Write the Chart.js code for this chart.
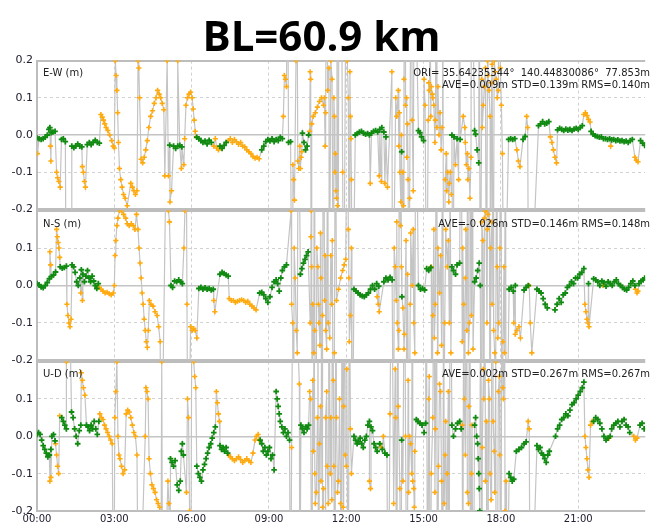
<!DOCTYPE html>
<html><head><meta charset="utf-8">
<script src="https://cdn.jsdelivr.net/npm/chart.js@4.4.1/dist/chart.umd.min.js"></script>
<style>
html,body{margin:0;padding:0;background:#fff;width:651px;height:524px;overflow:hidden;}
#wrap{position:relative;width:651px;height:524px;}
canvas{position:absolute;left:0;}
#title{position:absolute;left:0;width:643px;top:10px;text-align:center;font:700 42px 'Open Sans';color:#000;line-height:50px;z-index:5;}
.lbl{position:absolute;left:43px;font:10px 'DejaVu Sans';color:#222;white-space:pre;line-height:13px;z-index:5;}
.stat{position:absolute;right:1px;font:10px 'DejaVu Sans';color:#222;white-space:pre;text-align:right;line-height:13px;z-index:5;}
</style></head>
<body><div id="wrap">
<canvas id="c1" width="651" height="170" style="top:50px"></canvas>
<canvas id="c2" width="651" height="171" style="top:200px"></canvas>
<canvas id="c3" width="651" height="173" style="top:351px"></canvas>
<div id="title">BL=60.9 km</div>
<div class="lbl" style="top:66px">E-W (m)</div>
<div class="lbl" style="top:217px">N-S (m)</div>
<div class="lbl" style="top:367px">U-D (m)</div>
<div class="stat" style="top:66px">ORI= 35.64235344°  140.44830086°  77.853m</div>
<div class="stat" style="top:78px">AVE=0.009m STD=0.139m RMS=0.140m</div>
<div class="stat" style="top:217px">AVE=-0.026m STD=0.146m RMS=0.148m</div>
<div class="stat" style="top:367px">AVE=0.002m STD=0.267m RMS=0.267m</div>
</div>
<script>
// time in hours, value in metres
const xTickHours = [0,3,6,9,12,15,18,21];
const yTicks = [-0.2,-0.1,0,0.1,0.2];
const X_MAX = 23.6;

const ewFix = [[0.0,-0.008],[0.08,-0.01],[0.16,-0.012],[0.24,-0.01],[0.32,-0.006],[0.4,0.0],[0.46,0.015],[0.5,0.02],[0.55,0.006],[0.62,0.008],[0.7,0.01],
[0.95,-0.012],[1.02,-0.01],[1.1,-0.018],
[1.35,-0.03],[1.43,-0.034],[1.5,-0.03],[1.58,-0.024],[1.66,-0.03],[1.74,-0.032],
[1.95,-0.026],[2.03,-0.02],[2.1,-0.026],[2.18,-0.02],[2.26,-0.014],[2.34,-0.02],[2.42,-0.022],
[5.15,-0.027],[5.3,-0.03],[5.38,-0.036],[5.46,-0.03],[5.54,-0.028],[5.62,-0.032],
[6.2,-0.006],[6.28,-0.01],[6.36,-0.015],[6.44,-0.02],[6.52,-0.016],[6.6,-0.024],[6.68,-0.014],[6.76,-0.02],
[7.1,-0.03],[7.18,-0.036],[7.26,-0.028],[7.34,-0.02],
[8.72,-0.04],[8.8,-0.03],[8.88,-0.018],[8.96,-0.012],[9.04,-0.016],[9.12,-0.01],[9.2,-0.018],[9.28,-0.012],[9.36,-0.015],[9.44,-0.006],[9.52,-0.01],
[9.76,-0.02],[9.84,-0.018],
[10.3,0.005],[10.36,-0.02],[10.42,-0.04],[10.48,-0.03],[10.54,0.0],
[12.35,0.0],[12.43,0.004],[12.51,0.008],[12.59,0.01],[12.67,0.005],[12.75,0.002],[12.83,0.004],[12.9,0.0],[12.98,0.005],[13.06,0.01],[13.14,0.012],[13.22,0.008],[13.3,0.015],[13.38,0.02],[13.46,0.008],[13.54,-0.005],
[14.15,-0.045],
[14.8,0.012],[14.86,0.006],[14.92,-0.005],[15.0,-0.015],
[16.1,0.0],[16.18,-0.005],[16.3,-0.01],[16.42,-0.012],
[16.98,0.012],[17.02,0.002],[17.08,-0.04],[17.14,-0.075],
[18.3,-0.012],[18.38,-0.01],[18.46,-0.012],[18.54,-0.01],[18.86,-0.012],[18.94,-0.004],
[19.46,0.025],[19.54,0.03],[19.62,0.036],[19.7,0.03],[19.78,0.032],[19.86,0.036],
[20.2,0.014],[20.28,0.018],[20.36,0.015],[20.44,0.012],[20.52,0.016],[20.6,0.013],[20.68,0.015],[20.76,0.012],[20.84,0.016],[20.92,0.018],[21.0,0.015],[21.08,0.02],[21.16,0.025],
[21.5,0.01],[21.58,0.002],[21.66,-0.002],[21.74,-0.004],[21.82,-0.006],[21.9,-0.005],[21.98,-0.01],[22.06,-0.01],[22.14,-0.012],[22.22,-0.01],[22.3,-0.013],[22.38,-0.012],[22.46,-0.015],[22.54,-0.013],[22.62,-0.016],[22.7,-0.015],[22.78,-0.018],[22.86,-0.016],[22.94,-0.02],[23.02,-0.015],[23.1,-0.012],
[23.42,-0.015],[23.5,-0.022],[23.58,-0.028]];

const ewFloat = [[0.02,-0.05],[0.52,-0.03],[0.54,-0.07],
[0.76,-0.1],[0.8,-0.115],[0.85,-0.125],[0.9,-0.14],
[1.14,-0.6],[1.33,-0.6],
[1.76,-0.085],[1.8,-0.1],[1.84,-0.125],[1.88,-0.14],
[2.48,0.055],[2.53,0.048],[2.58,0.04],[2.63,0.03],[2.68,0.02],[2.75,0.012],[2.82,0.0],[2.9,-0.015],[2.96,-0.03],[3.0,-0.035],
[3.04,0.2],[3.07,0.16],[3.1,0.12],[3.13,0.06],[3.16,-0.02],[3.2,-0.09],[3.25,-0.12],[3.3,-0.14],[3.36,-0.16],[3.42,-0.17],[3.5,-0.19],
[3.64,-0.13],[3.7,-0.14],[3.76,-0.15],[3.82,-0.16],[3.88,-0.15],
[3.92,0.2],[3.95,0.18],[3.98,0.1],
[4.04,-0.065],[4.1,-0.075],[4.16,-0.06],[4.22,-0.04],[4.28,-0.015],[4.34,0.02],[4.41,0.05],[4.48,0.065],[4.55,0.085],[4.62,0.1],[4.68,0.12],[4.74,0.11],[4.8,0.1],[4.86,0.085],[4.92,0.068],
[4.96,-0.11],[5.05,0.2],[5.1,-0.11],[5.16,-0.18],[5.22,-0.15],
[5.46,0.2],[5.6,-0.09],
[5.7,-0.08],[5.73,-0.01],[5.78,0.08],[5.84,0.1],[5.9,0.11],[5.96,0.115],[6.02,0.1],[6.06,0.07],[6.1,0.04],[6.14,0.01],[6.18,-0.005],
[6.86,-0.03],[6.92,-0.01],[6.98,-0.035],[7.04,-0.04],
[7.42,-0.015],[7.5,-0.01],[7.58,-0.02],[7.66,-0.012],[7.74,-0.018],[7.82,-0.025],[7.9,-0.02],[7.98,-0.03],[8.06,-0.032],[8.14,-0.04],[8.22,-0.045],[8.3,-0.05],[8.38,-0.058],[8.46,-0.062],[8.54,-0.06],[8.62,-0.064],
[9.56,0.05],[9.6,0.16],[9.64,0.15],[9.68,0.13],[9.72,0.6],
[9.9,-0.6],[9.93,-0.08],[9.96,-0.12],[9.99,-0.175],
[10.05,0.2],[10.08,0.6],[10.12,-0.07],[10.16,-0.09],[10.2,-0.03],[10.22,-0.09],[10.25,-0.06],[10.27,-0.045],
[10.58,0.01],[10.6,0.17],[10.62,0.15],[10.64,-0.6],[10.66,0.03],[10.72,0.05],[10.8,0.06],[10.88,0.075],[10.96,0.09],[11.04,0.1],[11.12,0.08],[11.15,0.1],[11.18,-0.03],[11.2,0.06],[11.24,0.6],[11.28,0.12],
[11.33,0.18],[11.34,-0.6],[11.4,0.2],[11.45,0.15],[11.5,-0.6],[11.52,0.1],[11.54,0.05],[11.56,-0.1],[11.58,-0.05],[11.6,-0.15],[11.62,-0.17],[11.64,0.6],[11.66,-0.19],[11.68,-0.6],[11.72,0.6],[11.8,0.6],[11.86,-0.1],[11.9,-0.6],[12.0,0.6],
[12.04,0.2],[12.08,0.1],[12.12,-0.6],[12.14,0.17],[12.16,0.05],[12.18,-0.01],[12.2,-0.12],[12.24,-0.6],
[12.93,-0.13],
[13.28,-0.11],[13.36,-0.125],[13.5,-0.13],[13.6,-0.14],
[13.77,0.17],[13.8,-0.6],[13.92,0.1],[13.96,0.05],[14.02,0.12],[14.04,-0.03],[14.06,0.06],[14.08,-0.1],[14.12,-0.18],[14.14,0.0],[14.18,-0.6],[14.2,-0.1],[14.22,-0.19],[14.24,0.15],[14.28,0.6],[14.3,0.08],[14.34,0.1],[14.35,-0.06],[14.38,0.03],[14.4,-0.12],[14.44,-0.6],[14.46,-0.17],[14.52,0.6],[14.56,0.04],[14.6,-0.15],[14.64,0.6],
[15.02,0.15],[15.06,0.08],[15.12,-0.6],
[15.18,0.04],[15.2,0.14],[15.22,0.12],[15.24,0.6],[15.28,0.05],[15.3,0.13],[15.34,0.11],[15.36,0.1],[15.4,0.08],[15.44,-0.02],[15.46,0.04],[15.5,0.6],[15.52,0.02],[15.56,0.13],[15.6,0.0],[15.64,0.06],[15.68,-0.04],[15.72,0.02],[15.74,0.6],[15.78,-0.6],
[15.84,-0.12],[15.88,-0.05],[15.9,-0.15],[15.94,-0.1],[15.98,-0.18],[16.0,-0.13],[16.04,-0.1],[16.08,-0.16],[16.14,-0.6],[16.24,-0.08],[16.36,-0.12],[16.4,0.6],
[16.54,0.05],[16.6,0.02],[16.62,-0.02],[16.66,-0.08],[16.7,-0.05],[16.72,-0.12],[16.76,-0.09],[16.8,-0.17],[16.84,-0.06],[16.86,0.6],
[17.16,0.6],[17.2,-0.6],[17.26,0.15],[17.28,0.02],[17.32,0.08],[17.36,0.13],[17.4,0.18],[17.44,-0.6],[17.48,0.2],[17.5,0.16],[17.54,0.12],[17.58,0.05],[17.6,-0.6],[17.64,0.14],[17.66,0.19],[17.7,-0.6],[17.74,0.2],[17.78,0.17],[17.82,0.15],[17.86,0.1],[17.9,0.12],[17.94,0.6],[17.98,0.18],[18.02,0.08],[18.06,-0.05],[18.12,-0.6],
[18.62,-0.04],[18.68,-0.07],[18.74,-0.085],
[19.0,0.05],[19.04,0.02],[19.08,-0.6],
[19.92,-0.005],[19.98,-0.02],[20.04,-0.04],[20.1,-0.06],[20.16,-0.075],
[21.22,0.055],[21.28,0.06],[21.34,0.052],[21.4,0.042],[21.46,0.035],
[22.26,-0.03],
[23.2,-0.06],[23.26,-0.068],[23.32,-0.072]];

const nsFix = [[0.0,0.005],[0.08,0.002],[0.16,-0.004],[0.24,-0.006],[0.32,0.0],[0.4,0.008],[0.48,0.018],[0.56,0.024],[0.64,0.028],[0.72,0.036],
[0.9,0.05],[0.98,0.046],[1.06,0.048],[1.14,0.052],
[1.36,0.055],[1.42,0.05],[1.48,0.035],[1.54,0.01],[1.6,0.0],[1.66,0.02],[1.72,0.042],[1.78,0.03],[1.84,0.01],[1.9,0.025],[1.96,0.04],[2.02,0.02],[2.08,0.01],[2.14,0.025],[2.2,0.012],[2.26,0.0],[2.32,-0.008],[2.38,0.005],
[5.2,0.0],[5.26,-0.005],[5.34,0.012],[5.42,0.01],[5.5,0.015],[5.58,0.01],[5.64,0.005],
[6.28,-0.008],[6.36,-0.005],[6.44,-0.01],[6.52,-0.006],[6.6,-0.01],[6.68,-0.008],[6.76,-0.012],[6.84,-0.01],
[7.1,0.03],[7.18,0.035],[7.26,0.032],[7.34,0.028],[7.42,0.025],
[8.64,-0.02],[8.72,-0.018],[8.8,-0.025],[8.88,-0.035],[8.96,-0.045],[9.04,-0.03],[9.12,-0.005],[9.2,0.01],[9.28,0.015],[9.34,0.005],[9.4,-0.015],[9.46,0.02],[9.52,0.04],[9.6,0.05],[9.68,0.055],
[10.22,0.03],[10.28,0.045],[10.34,0.06],[10.4,0.07],[10.46,0.08],[10.52,0.09],
[12.3,-0.01],[12.38,-0.015],[12.46,-0.02],[12.54,-0.025],[12.62,-0.028],[12.7,-0.03],[12.78,-0.025],[12.86,-0.02],[12.94,-0.01],[13.02,0.0],[13.1,-0.01],[13.18,0.005],[13.26,-0.002],
[13.46,0.01],[13.54,0.02],[13.62,0.015],[13.7,0.022],[13.78,0.015],
[14.16,-0.03],
[14.8,0.0],[14.88,-0.01],[14.96,-0.008],[15.04,-0.012],
[15.12,0.045],[15.2,0.04],[15.28,0.048],
[16.1,0.05],[16.16,0.04],[16.24,0.03],[16.3,0.055],[16.4,0.06],
[16.98,0.01],[17.04,0.02],[17.1,0.04],[17.16,0.06],[17.2,0.0],
[18.32,-0.01],[18.4,-0.005],[18.48,-0.015],[18.56,0.0],[18.9,-0.012],[18.98,-0.005],[19.06,0.0],
[19.4,-0.01],[19.48,-0.015],[19.56,-0.02],[19.64,-0.035],[19.72,-0.05],[19.8,-0.06],
[20.1,-0.065],[20.18,-0.05],[20.26,-0.035],[20.34,-0.045],[20.42,-0.025],[20.5,-0.02],[20.58,-0.005],[20.66,0.0],[20.74,0.01],[20.82,0.005],[20.9,0.02],[20.98,0.02],[21.06,0.03],[21.14,0.035],[21.22,0.045],
[21.4,0.005],
[21.6,0.018],[21.68,0.015],[21.76,0.01],[21.84,0.0],[21.92,0.012],[22.0,0.008],[22.08,-0.002],[22.16,0.01],[22.24,0.005],[22.32,0.0],[22.4,0.01],[22.48,0.015],[22.56,0.005],[22.64,0.0],[22.72,-0.005],[22.8,-0.01],[22.88,-0.012],[22.96,-0.005],[23.04,0.005],[23.12,0.012],[23.2,0.0],[23.36,0.005],[23.44,0.012],[23.52,0.015],[23.58,0.02]];

const nsFloat = [[0.5,0.09],[0.53,0.055],[0.76,0.15],[0.79,0.13],[0.82,0.115],[0.85,0.1],[0.88,0.075],
[1.16,-0.05],[1.2,-0.08],[1.24,-0.1],[1.28,-0.11],[1.32,-0.09],
[1.7,-0.02],[1.76,-0.04],
[2.42,-0.005],[2.48,-0.01],[2.56,-0.015],[2.64,-0.02],[2.72,-0.018],[2.8,-0.022],[2.88,-0.025],[2.96,-0.02],
[3.0,0.0],[3.03,0.08],[3.06,0.12],[3.1,0.16],[3.14,0.18],[3.2,0.2],[3.28,0.2],[3.36,0.19],[3.44,0.18],[3.5,0.165],[3.58,0.16],[3.66,0.165],[3.74,0.16],[3.8,0.15],[3.86,0.19],
[3.92,0.15],[3.96,0.1],[4.0,0.06],[4.04,0.02],[4.08,-0.02],[4.12,-0.05],[4.16,-0.09],[4.2,-0.12],[4.24,-0.15],[4.28,-0.165],[4.32,-0.12],[4.36,-0.04],[4.42,-0.05],[4.5,-0.055],[4.58,-0.07],[4.66,-0.08],[4.72,-0.11],[4.78,-0.15],[4.82,-0.6],
[5.06,0.6],[5.1,0.2],[5.14,0.17],
[5.7,0.1],[5.74,0.2],[5.78,0.6],[5.82,-0.05],[5.86,-0.6],
[5.96,-0.11],[6.02,-0.12],[6.08,-0.115],[6.14,-0.12],[6.2,-0.14],
[6.86,-0.04],[6.9,-0.07],
[7.46,-0.035],[7.54,-0.04],[7.62,-0.04],[7.7,-0.045],[7.78,-0.042],[7.86,-0.04],[7.94,-0.038],[8.02,-0.04],[8.1,-0.045],[8.18,-0.042],[8.26,-0.05],[8.34,-0.055],[8.42,-0.06],[8.5,-0.065],
[9.86,0.2],[9.88,-0.05],[9.92,-0.1],[9.95,-0.6],[9.98,0.1],[10.02,0.02],[10.06,-0.12],[10.1,-0.18],[10.14,0.6],
[10.6,-0.1],[10.63,0.13],[10.64,0.2],[10.66,0.05],[10.68,-0.6],[10.7,-0.05],[10.74,-0.18],[10.76,0.6],[10.78,-0.12],[10.82,-0.6],[10.86,0.1],[10.9,0.05],[10.92,-0.05],[10.94,-0.1],[10.98,-0.16],[11.0,0.14],[11.02,0.02],[11.06,-0.6],[11.08,-0.08],[11.12,0.6],[11.16,-0.04],[11.18,0.08],[11.2,-0.12],[11.24,-0.17],[11.28,0.6],[11.3,-0.1],
[11.36,-0.14],[11.4,0.08],[11.44,-0.05],[11.46,0.12],[11.5,-0.6],[11.54,-0.18],[11.58,0.6],
[11.62,-0.04],[11.7,-0.01],[11.78,0.02],[11.86,0.04],[11.92,0.055],[11.98,0.07],[12.04,0.6],[12.08,0.15],[12.1,0.02],[12.12,-0.15],[12.16,-0.08],[12.2,0.1],[12.22,-0.6],
[13.2,-0.03],[13.24,-0.05],[13.28,-0.07],
[13.84,-0.6],[13.86,0.1],[13.9,0.05],[13.94,-0.04],[13.96,0.17],[13.98,-0.1],[14.02,-0.17],[14.04,-0.12],[14.06,0.6],[14.1,0.16],[14.12,0.6],[14.14,0.05],[14.2,-0.06],[14.24,-0.17],[14.26,-0.13],[14.32,0.12],[14.36,-0.6],[14.38,0.03],[14.44,-0.6],[14.48,-0.05],[14.5,0.14],[14.56,0.0],[14.6,0.15],[14.62,-0.1],[14.66,-0.18],[14.7,0.6],
[15.3,0.05],[15.32,-0.6],[15.36,-0.08],[15.4,0.15],[15.42,-0.14],[15.46,-0.05],[15.5,0.6],[15.54,-0.18],[15.56,0.1],[15.62,-0.02],[15.66,0.08],[15.7,-0.16],[15.74,0.6],[15.78,-0.6],[15.82,-0.1],[15.86,0.15],[15.92,0.05],[15.96,0.12],[16.0,-0.1],[16.02,0.6],[16.06,-0.18],
[16.46,0.6],[16.5,-0.15],[16.52,0.1],[16.56,-0.05],[16.58,-0.6],[16.62,0.02],[16.64,0.15],[16.68,-0.12],[16.72,0.6],[16.74,-0.18],[16.78,-0.1],[16.8,0.6],[16.86,-0.08],[16.9,0.6],[16.92,-0.17],
[17.24,-0.6],[17.26,0.17],[17.3,0.12],[17.34,-0.6],[17.36,0.18],[17.38,0.2],[17.42,0.2],[17.46,-0.1],[17.48,0.15],[17.5,0.19],[17.54,0.6],[17.58,-0.6],[17.6,0.1],[17.64,0.17],[17.66,-0.05],[17.7,0.6],[17.72,-0.12],[17.76,-0.18],[17.78,-0.6],[17.84,0.6],[17.86,0.05],[17.88,-0.14],[17.92,-0.1],[17.96,0.1],[18.0,0.6],[18.04,-0.6],[18.08,-0.15],[18.12,0.05],[18.14,-0.18],[18.18,0.6],[18.2,-0.6],
[18.5,-0.1],[18.56,-0.13],[18.62,-0.12],[18.7,-0.11],[18.76,-0.14],
[19.1,0.0],[19.14,-0.1],[19.2,-0.18],
[21.26,-0.05],[21.3,-0.07],[21.34,-0.09],[21.38,-0.1],[21.42,-0.11],
[21.96,0.0],
[23.22,-0.01],[23.28,-0.02],[23.32,-0.015]];

const udFix = [[0.0,0.005],[0.06,0.01],[0.12,0.005],[0.18,-0.01],[0.24,-0.025],[0.3,-0.035],[0.36,-0.045],[0.42,-0.055],[0.48,-0.05],[0.54,-0.035],
[0.58,0.0],[0.64,0.005],[0.7,-0.012],
[0.96,0.05],[1.02,0.04],[1.08,0.03],[1.14,0.02],
[1.34,0.065],[1.4,0.05],[1.46,0.02],[1.52,0.0],[1.58,-0.02],[1.64,0.015],[1.7,0.03],
[1.92,0.03],[1.98,0.025],[2.04,0.015],[2.1,0.03],[2.16,0.02],[2.22,0.04],[2.28,0.02],[2.34,0.005],[2.4,0.04],
[5.18,-0.06],[5.24,-0.07],[5.3,-0.08],[5.36,-0.065],
[5.44,-0.13],[5.5,-0.145],[5.56,-0.12],
[5.6,-0.04],[5.64,-0.02],[5.68,-0.05],
[6.2,-0.08],[6.26,-0.1],[6.32,-0.11],[6.38,-0.12],[6.44,-0.09],
[6.5,-0.075],[6.56,-0.06],[6.62,-0.045],[6.68,-0.03],[6.74,-0.02],[6.8,-0.005],[6.86,0.01],[6.92,0.025],
[7.1,-0.025],[7.16,-0.035],[7.22,-0.03],[7.28,-0.04],[7.34,-0.03],[7.4,-0.045],
[8.66,-0.01],[8.72,-0.02],[8.78,-0.04],[8.84,-0.03],[8.9,-0.05],[8.96,-0.04],[9.02,-0.03],[9.08,-0.06],[9.14,-0.05],[9.2,-0.09],
[9.28,0.12],[9.32,0.1],[9.36,0.08],[9.4,0.06],[9.44,0.04],
[9.5,0.025],[9.56,0.01],[9.62,0.02],[9.68,0.0],[9.74,0.01],[9.8,-0.01],
[10.24,0.03],[10.3,0.02],[10.36,0.01],[10.42,0.025],[10.48,0.02],[10.54,0.03],
[12.3,0.0],[12.36,-0.01],[12.42,-0.02],[12.48,-0.015],[12.54,-0.005],[12.6,-0.02],[12.66,-0.03],[12.72,-0.01],[12.78,0.0],[12.84,0.03],[12.9,0.04],[12.96,0.025],[13.02,0.015],[13.08,-0.02],[13.14,-0.03],[13.2,-0.04],[13.3,-0.02],[13.4,-0.035],[13.5,-0.045],[13.58,-0.05],
[14.15,-0.01],
[14.72,0.045],[14.78,0.04],[14.86,0.035],[14.94,0.03],[15.02,0.01],[15.08,0.035],
[16.1,0.03],[16.16,0.0],[16.24,0.02],[16.32,0.035],[16.4,0.04],[16.46,0.02],
[16.98,0.03],[17.02,0.05],[17.06,0.0],[17.1,-0.02],[17.12,-0.06],[17.14,-0.1],[17.16,-0.14],[17.18,-0.2],
[18.32,-0.1],[18.38,-0.11],[18.44,-0.12],[18.5,-0.115],
[18.6,-0.04],[18.7,-0.035],[18.8,-0.03],[18.9,-0.02],[18.98,-0.015],
[19.4,-0.025],[19.46,-0.035],[19.52,-0.03],[19.58,-0.045],[19.64,-0.05],[19.7,-0.06],[19.76,-0.07],[19.82,-0.05],[19.88,-0.04],
[20.12,0.0],[20.2,0.02],[20.28,0.03],[20.36,0.045],[20.44,0.05],[20.52,0.06],[20.6,0.055],[20.68,0.07],[20.76,0.085],[20.84,0.09],[20.92,0.1],[21.0,0.11],[21.08,0.12],[21.16,0.13],[21.22,0.145],
[21.6,0.04],[21.68,0.05],[21.76,0.045],[21.84,0.035],[21.92,0.02],
[22.0,0.0],[22.08,-0.01],[22.16,-0.005],[22.24,0.0],
[22.3,0.02],[22.38,0.03],[22.46,0.035],[22.54,0.04],[22.62,0.025],[22.7,0.04],[22.78,0.045],[22.86,0.03],[22.94,0.025],[23.0,0.01],
[23.4,0.03],[23.48,0.035],[23.56,0.02]];

const udFloat = [[0.5,-0.12],[0.54,-0.11],
[0.72,-0.02],[0.76,-0.05],[0.8,-0.08],[0.84,-0.1],[0.88,0.055],
[1.14,0.2],[1.2,0.6],
[1.72,0.17],[1.76,0.15],[1.8,0.13],[1.86,0.11],
[2.44,0.06],[2.5,0.05],[2.56,0.045],[2.62,0.03],[2.68,0.02],[2.74,0.01],[2.8,0.0],[2.86,-0.01],[2.92,-0.02],
[2.98,-0.6],[3.02,0.05],[3.06,0.12],[3.1,0.2],[3.14,0.0],[3.18,-0.05],
[3.22,-0.06],[3.28,-0.08],[3.34,-0.1],[3.4,-0.09],
[3.46,0.06],[3.52,0.07],[3.58,0.065],[3.64,0.05],[3.7,0.03],[3.76,0.01],[3.82,0.0],[3.88,-0.05],[3.94,-0.6],
[4.2,0.0],[4.23,0.13],[4.27,0.12],[4.31,0.1],[4.35,-0.06],[4.4,-0.1],[4.46,-0.13],[4.52,-0.14],[4.58,-0.15],[4.64,-0.17],[4.7,-0.18],[4.76,-0.19],[4.8,-0.6],[4.84,0.2],[4.88,-0.6],
[5.08,-0.12],[5.12,-0.18],[5.15,-0.6],
[5.8,-0.15],[5.84,0.1],[5.88,0.05],[5.92,-0.2],[5.96,-0.6],
[6.02,0.6],[6.08,0.2],[6.12,0.16],[6.16,0.13],
[6.96,0.12],[7.0,0.09],[7.04,0.06],[7.08,0.04],
[7.44,-0.05],[7.5,-0.055],[7.58,-0.06],[7.66,-0.065],[7.74,-0.06],[7.82,-0.055],[7.9,-0.062],[7.98,-0.07],[8.06,-0.065],[8.14,-0.06],[8.22,-0.065],[8.3,-0.07],[8.38,-0.045],
[8.46,-0.01],[8.52,0.0],[8.58,0.005],[8.62,-0.01],
[9.84,-0.6],[9.88,-0.03],[9.94,0.6],
[10.18,0.14],[10.2,-0.6],
[10.58,0.12],[10.62,0.1],[10.66,-0.6],[10.7,0.15],[10.72,-0.04],[10.74,0.6],[10.78,-0.1],[10.8,-0.18],[10.84,-0.15],[10.88,0.05],[10.9,0.6],[10.92,-0.6],[10.96,-0.02],[11.0,0.08],[11.02,-0.12],[11.06,0.6],[11.08,-0.19],[11.12,-0.14],[11.14,-0.6],[11.18,-0.6],[11.2,0.05],[11.24,0.12],[11.26,-0.08],[11.3,-0.18],
[11.32,0.6],[11.38,-0.1],[11.4,0.05],[11.44,-0.17],[11.46,0.6],[11.5,0.15],[11.52,-0.08],[11.56,-0.6],[11.6,0.6],[11.62,0.05],[11.66,-0.15],[11.7,-0.12],[11.74,0.1],[11.78,-0.18],[11.8,-0.6],[11.84,0.6],[11.88,-0.19],[11.9,0.08],[11.94,0.6],[11.96,-0.05],[12.0,-0.08],[12.02,0.18],[12.08,-0.6],[12.12,0.6],[12.16,0.02],[12.2,-0.1],
[12.9,-0.12],[12.94,-0.14],
[13.3,-0.02],[13.36,-0.03],[13.44,0.0],
[13.62,-0.6],[13.7,0.06],[13.76,0.6],[13.84,-0.18],[13.9,0.18],[13.92,0.05],[13.96,-0.6],[14.0,0.6],[14.02,0.08],[14.08,-0.14],[14.12,-0.6],[14.2,-0.12],[14.26,0.6],[14.3,0.0],[14.36,-0.6],[14.4,0.15],[14.42,-0.15],
[14.46,0.0],[14.5,-0.02],[14.54,-0.1],[14.56,0.6],[14.58,-0.12],[14.62,-0.14],[14.64,-0.19],[14.66,-0.04],
[15.1,0.6],[15.16,-0.6],[15.2,0.1],[15.22,0.16],[15.26,-0.6],[15.3,-0.1],[15.36,0.05],[15.4,0.6],[15.44,-0.15],[15.46,0.02],[15.5,0.6],[15.54,-0.6],[15.58,-0.08],[15.62,0.14],[15.66,0.12],[15.7,-0.12],[15.74,-0.6],[15.78,0.6],[15.8,-0.18],[15.84,-0.05],[15.86,0.04],[15.9,-0.6],[15.92,-0.1],[15.96,0.12],[15.98,-0.6],[16.04,0.6],
[16.5,0.03],[16.52,-0.6],[16.56,0.6],[16.58,0.1],[16.62,-0.05],[16.66,0.6],[16.7,-0.15],[16.74,-0.18],[16.76,0.08],[16.8,0.6],[16.82,-0.6],[16.86,-0.1],[16.88,0.03],[16.92,-0.6],
[17.22,0.6],[17.26,-0.6],[17.28,-0.03],[17.32,0.18],[17.34,0.1],[17.38,0.6],[17.4,-0.12],[17.44,0.04],[17.46,-0.6],[17.5,-0.6],[17.52,0.15],[17.56,0.1],[17.58,-0.1],[17.62,-0.17],[17.64,0.6],[17.68,0.6],[17.7,0.04],[17.74,-0.04],[17.76,-0.15],[17.8,0.2],[17.82,-0.6],[17.86,-0.6],[17.9,0.12],[17.94,0.16],[17.96,-0.05],[18.0,-0.6],[18.04,0.6],[18.08,0.13],[18.1,0.1],[18.14,0.6],[18.16,-0.2],[18.2,-0.12],[18.22,-0.6],
[19.06,0.04],[19.1,0.02],[19.14,-0.6],
[21.26,0.0],[21.3,-0.03],[21.34,-0.06],[21.38,-0.09],[21.42,-0.11],[21.48,0.03],[21.54,0.04],
[22.2,-0.005],
[23.16,0.0],[23.22,-0.01],[23.28,-0.005]];

const FIX_COLOR = '#108a10';
const FLOAT_COLOR = '#ffab0f';
const LINE_COLOR = '#c4c4c4';
const FONT = 'DejaVu Sans';

function toXY(arr){ return arr.map(p => ({x:p[0], y:p[1]})); }

function makePanel(id, fix, flt, showTop, showX){
  const all = fix.concat(flt).slice().sort((a,b)=>a[0]-b[0]);
  return new Chart(document.getElementById(id), {
    type:'scatter',
    data:{datasets:[
      {data:toXY(fix), pointStyle:'cross', pointRadius:2.8, borderColor:FIX_COLOR, backgroundColor:FIX_COLOR, borderWidth:1.8, order:0, showLine:false},
      {data:toXY(flt), pointStyle:'cross', pointRadius:2.6, borderColor:FLOAT_COLOR, backgroundColor:FLOAT_COLOR, borderWidth:1.6, order:1, showLine:false},
      {data:toXY(all), showLine:true, pointRadius:0, borderColor:LINE_COLOR, borderWidth:1.2, order:2, tension:0}
    ]},
    options:{
      responsive:false, animation:false, events:[],
      layout:{padding:{top:10, bottom: showX ? 0 : 10, left:0, right:0}},
      plugins:{legend:{display:false}, tooltip:{enabled:false}, title:{display:false}},
      scales:{
        x:{type:'linear', min:0, max:X_MAX,
          afterBuildTicks: s => { s.ticks = xTickHours.map(v => ({value:v})); },
          afterFit: s => { s.height = showX ? 13 : 0; },
          ticks:{display:showX, padding:2, autoSkip:false, maxRotation:0, color:'#202030',
                 font:{family:FONT, size:10}, callback: v => String(v).padStart(2,'0') + ':00'},
          grid:{drawTicks:false, color: c => (c.tick && c.tick.value === 0) ? 'rgba(0,0,0,0)' : '#cfcfcf', lineWidth:1},
          border:{display:false, dash:[3,3]}
        },
        y:{min:-0.2, max:0.2,
          afterBuildTicks: s => { s.ticks = yTicks.map(v => ({value:v})); },
          afterFit: s => { s.width = 37; },
          ticks:{padding:4, color:'#202030', font:{family:FONT, size:11},
                 callback: v => (!showTop && v > 0.15) ? '' : (Math.abs(v) < 1e-9 ? '0.0' : Number(v).toFixed(1))},
          grid:{drawTicks:false,
                color: c => { const v = c.tick ? Math.abs(c.tick.value) : 0; return v > 0.15 ? '#bdbdbd' : (v < 1e-9 ? '#c4c4c4' : '#d2d2d2'); },
                lineWidth: c => { const v = c.tick ? Math.abs(c.tick.value) : 0; return v > 0.15 ? 2 : (v < 1e-9 ? 1.5 : 1); }},
          border:{display:true, color:'#bdbdbd', width:2,
                  dash: c => { const v = c.tick ? Math.abs(c.tick.value) : 0; return (v > 1e-9 && v < 0.15) ? [3,3] : []; }}
        }
      }
    }
  });
}

makePanel('c1', ewFix, ewFloat, true, false);
makePanel('c2', nsFix, nsFloat, false, false);
makePanel('c3', udFix, udFloat, false, true);
</script>
</body></html>
